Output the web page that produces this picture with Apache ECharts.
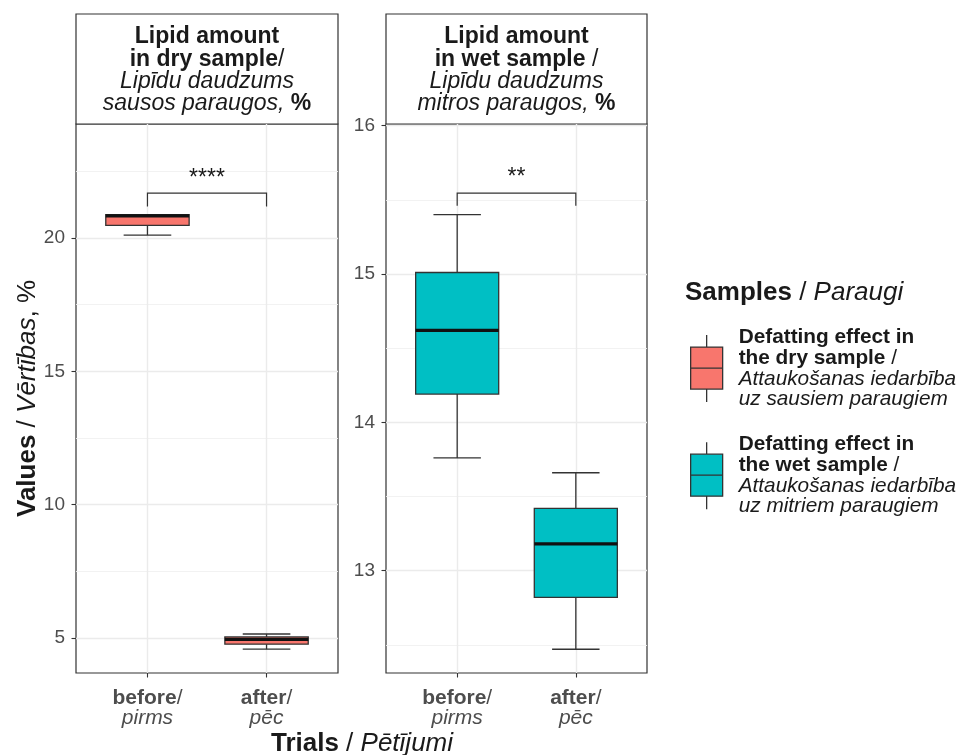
<!DOCTYPE html>
<html><head><meta charset="utf-8">
<script src="https://cdn.jsdelivr.net/npm/echarts@6/dist/echarts.min.js"></script>
<style>html,body{margin:0;padding:0;background:#fff}#c{width:957px;height:755px}</style>
</head><body><div id="c"></div>
<script>
const FONT = '"Liberation Sans", Arial, Helvetica, sans-serif';

// ---- data ----
const trials = ['before', 'after'];
const trialsLv = ['pirms', 'pēc'];
const trialPos = [1, 2];
// box statistics per trial: [min, Q1, median, Q3, max]
const dryStats = [[20.11, 20.47, 20.83, 20.88, 20.88], [4.58, 4.77, 4.95, 5.04, 5.15]];
const wetStats = [[13.76, 14.19, 14.62, 15.01, 15.40], [12.47, 12.82, 13.18, 13.42, 13.66]];
// significance brackets: [leg bottom, top]
const drySig = [21.18, 21.68];
const wetSig = [15.46, 15.545];
const sigLabels = ['****', '**'];
// axis ticks
const dryMajor = [5, 10, 15, 20];
const dryMinor = [7.5, 12.5, 17.5, 22.5];
const wetMajor = [13, 14, 15, 16];
const wetMinor = [12.5, 13.5, 14.5, 15.5];
const dryLimits = [3.688, 24.275];
const wetLimits = [12.31, 16.011];
const xLimits = [0.4, 2.6];
const seriesNames = ['dry', 'wet'];
const colors = ['#F8766D', '#00BFC4'];
const legendText = [
  '{b|Defatting effect in}\n{b|the dry sample}{r| /}\n{i|Attaukošanas iedarbība}\n{i|uz sausiem paraugiem}',
  '{b|Defatting effect in}\n{b|the wet sample}{r| /}\n{i|Attaukošanas iedarbība}\n{i|uz mitriem paraugiem}'
];
const stripText = [
  '{b|Lipid amount}\n{b|in dry sample}{r|/}\n{i|Lipīdu daudzums}\n{i|sausos paraugos, }{b|%}',
  '{b|Lipid amount}\n{b|in wet sample}{r| /}\n{i|Lipīdu daudzums}\n{i|mitros paraugos, }{b|%}'
];

// ---- layout ----
const grids = [
  {left: 76, top: 124, width: 262, height: 549},
  {left: 386, top: 124, width: 261, height: 549}
];
const BOX_W = 0.70, CAP_W = 0.40;
const INK = '#333333';

function boxRender(fill) {
  return function (params, api) {
    const x = api.value(0);
    const v = [1, 2, 3, 4, 5].map(i => api.value(i));
    const unit = api.size([1, 0])[0];
    const hb = unit * BOX_W / 2, hc = unit * CAP_W / 2;
    const p = v.map(val => api.coord([x, val]));
    const cx = p[0][0];
    const ls = {stroke: INK, lineWidth: 1.3};
    return {type: 'group', children: [
      {type: 'line', shape: {x1: cx, y1: p[0][1], x2: cx, y2: p[1][1]}, style: ls},
      {type: 'line', shape: {x1: cx, y1: p[3][1], x2: cx, y2: p[4][1]}, style: ls},
      {type: 'line', shape: {x1: cx - hc, y1: p[0][1], x2: cx + hc, y2: p[0][1]}, style: ls},
      {type: 'line', shape: {x1: cx - hc, y1: p[4][1], x2: cx + hc, y2: p[4][1]}, style: ls},
      {type: 'rect', shape: {x: cx - hb, y: p[3][1], width: 2 * hb, height: p[1][1] - p[3][1]},
        style: {fill: fill, stroke: INK, lineWidth: 1.3}},
      {type: 'line', shape: {x1: cx - hb, y1: p[2][1], x2: cx + hb, y2: p[2][1]},
        style: {stroke: '#111', lineWidth: 3.2}}
    ]};
  };
}
function sigRender(label) {
  return function (params, api) {
    const x1 = api.value(0), x2 = api.value(1), lo = api.value(2), hi = api.value(3);
    const a = api.coord([x1, lo]), b = api.coord([x1, hi]), c = api.coord([x2, hi]), d = api.coord([x2, lo]);
    return {type: 'group', children: [
      {type: 'polyline', shape: {points: [a, b, c, d]}, style: {stroke: INK, fill: 'none', lineWidth: 1.2}},
      {type: 'text', x: (b[0] + c[0]) / 2, y: b[1] - 15,
        style: {text: label, align: 'center', verticalAlign: 'middle', fontSize: 23, fontFamily: FONT, fill: '#1a1a1a'}}
    ]};
  };
}

function xAxis(gi) {
  return {
    gridIndex: gi, type: 'value', min: xLimits[0], max: xLimits[1],
    axisLine: {show: false},
    axisTick: {show: true, customValues: trialPos, length: 4.5, lineStyle: {color: INK, width: 1.1}},
    axisLabel: {
      customValues: trialPos, margin: 15,
      formatter: v => { const k = trialPos.indexOf(v); return k < 0 ? '' : '{b|' + trials[k] + '}{r|/}\n{i|' + trialsLv[k] + '}'; },
      rich: {
        b: {fontFamily: FONT, fontSize: 21, fontWeight: 'bold', color: '#4d4d4d', lineHeight: 20},
        r: {fontFamily: FONT, fontSize: 21, color: '#4d4d4d', lineHeight: 20},
        i: {fontFamily: FONT, fontSize: 21, fontStyle: 'italic', color: '#4d4d4d', lineHeight: 20}
      }
    },
    splitLine: {show: true, lineStyle: {color: '#ebebeb', width: 1.4}}
  };
}
function yAxes(gi, lim, major, minor) {
  return [{
    gridIndex: gi, type: 'value', min: lim[0], max: lim[1],
    axisLine: {show: false},
    axisTick: {show: true, customValues: major, length: 4.5, lineStyle: {color: INK, width: 1.1}},
    axisLabel: {customValues: major, margin: 11, color: '#4d4d4d', fontSize: 19, fontFamily: FONT},
    splitLine: {show: true, lineStyle: {color: '#ebebeb', width: 1.4}}
  }, {
    gridIndex: gi, type: 'value', min: lim[0], max: lim[1], position: 'left',
    axisLine: {show: false},
    axisTick: {show: false, customValues: minor},
    axisLabel: {show: false, customValues: minor},
    splitLine: {show: true, lineStyle: {color: '#f0f0f0', width: 0.9}}
  }];
}

const chart = echarts.init(document.getElementById('c'), null, {renderer: 'canvas'});
const boxData = [dryStats, wetStats].map(st => st.map((s, k) => [trialPos[k]].concat(s)));
const sigData = [drySig, wetSig].map(s => [[trialPos[0], trialPos[1], s[0], s[1]]]);

const richTitle = {
  b: {fontFamily: FONT, fontWeight: 'bold', fill: '#1a1a1a'},
  r: {fontFamily: FONT, fill: '#1a1a1a'},
  i: {fontFamily: FONT, fontStyle: 'italic', fill: '#1a1a1a'}
};
function richSized(size, lh) {
  const o = {};
  for (const k in richTitle) o[k] = Object.assign({}, richTitle[k], {fontSize: size, lineHeight: lh});
  return o;
}

const graphics = [];
grids.forEach((g, i) => {
  graphics.push({type: 'rect', shape: {x: g.left, y: 14, width: g.width, height: g.top - 14},
    style: {fill: '#fff', stroke: INK, lineWidth: 1.2}, silent: true});
  graphics.push({type: 'text', x: g.left + g.width / 2, y: (14 + g.top) / 2 + 1.5,
    style: {text: stripText[i], rich: richSized(23, 22.4), align: 'center', verticalAlign: 'middle'}, silent: true});
});
graphics.push({type: 'text', x: 362, y: 744,
  style: {text: '{b|Trials}{r| / }{i|Pētījumi}', rich: richSized(26, 28), align: 'center', verticalAlign: 'middle'}});
graphics.push({type: 'text', x: 28, y: 398.5, rotation: Math.PI / 2,
  style: {text: '{b|Values}{r| / }{i|Vērtības}{r|, %}', rich: richSized(26, 28), align: 'center', verticalAlign: 'middle'}});
graphics.push({type: 'text', x: 685, y: 293,
  style: {text: '{b|Samples}{r| / }{i|Paraugi}', rich: richSized(26, 28), align: 'left', verticalAlign: 'middle'}});

const option = {
  backgroundColor: '#fff',
  animation: false,
  grid: grids.map(g => Object.assign({show: true, borderColor: INK, borderWidth: 1.2, backgroundColor: 'transparent'}, g)),
  xAxis: [xAxis(0), xAxis(1)],
  yAxis: yAxes(0, dryLimits, dryMajor, dryMinor).concat(yAxes(1, wetLimits, wetMajor, wetMinor)),
  legend: {
    orient: 'vertical', left: 690, top: 327, padding: 0,
    itemWidth: 32, itemHeight: 67, itemGap: 24, selectedMode: false,
    icon: 'path://M16,0L16,12M0,12L32,12L32,54L0,54ZM0,33L32,33M16,54L16,67',
    data: seriesNames.map((n, i) => ({name: n, itemStyle: {color: colors[i], borderColor: INK, borderWidth: 1.3}})),
    formatter: name => legendText[seriesNames.indexOf(name)],
    textStyle: {
      padding: [0, 0, 0, 11],
      rich: {
        b: {fontFamily: FONT, fontSize: 20.8, fontWeight: 'bold', color: '#1a1a1a', lineHeight: 20.7},
        r: {fontFamily: FONT, fontSize: 20.8, color: '#1a1a1a', lineHeight: 20.7},
        i: {fontFamily: FONT, fontSize: 20.8, fontStyle: 'italic', color: '#1a1a1a', lineHeight: 20.7}
      }
    }
  },
  graphic: graphics,
  series: [0, 1].map(i => ({
    name: seriesNames[i], type: 'custom', xAxisIndex: i, yAxisIndex: i * 2,
    itemStyle: {color: colors[i]},
    data: boxData[i], encode: {x: 0, y: [1, 2, 3, 4, 5]},
    renderItem: boxRender(colors[i]), silent: true, z: 3
  })).concat([0, 1].map(i => ({
    name: 'sig' + i, type: 'custom', xAxisIndex: i, yAxisIndex: i * 2,
    data: sigData[i], encode: {x: [0, 1], y: [2, 3]},
    renderItem: sigRender(sigLabels[i]), silent: true, z: 3
  })))
};
chart.setOption(option);
</script>
</body></html>
